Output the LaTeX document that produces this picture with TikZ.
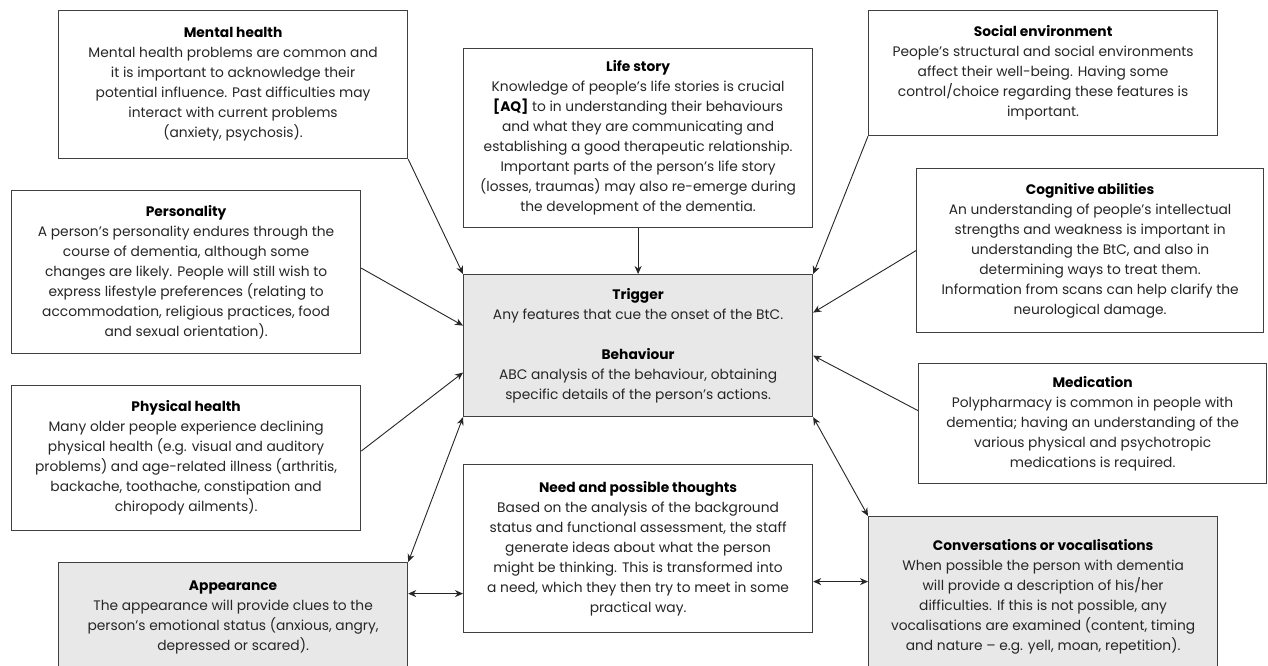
\documentclass[tikz,border=0pt]{standalone}
\usepackage{fontspec}
\setmainfont{Poppins}
\usepackage{xcolor}
\usepackage{tikz}
\usetikzlibrary{arrows.meta, positioning, calc}
\tikzset{
  factor/.style={rectangle, draw=black!75, line width=1.2pt, fill=white,
                 anchor=north west, align=center, inner sep=0pt,
                 text=black!85, font=\fontsize{13.8}{20}\selectfont},
  focus/.style={factor, fill=black!9},
  arc/.style={-{Stealth[length=8pt, width=7pt]}, line width=0.9pt, draw=black!85},
  both/.style={arc, {Stealth[length=8pt, width=7pt]}-{Stealth[length=8pt, width=7pt]}}
}
\newcommand{\hd}[1]{{\bfseries\color{black}#1}}

\begin{document}
\begin{tikzpicture}[x=1pt, y=-1pt]
    \clip (0,0) rectangle (1268,666);
    \fill[white] (0,0) rectangle (1268,666);
    % left column
    \node[factor, minimum width=349pt, minimum height=148pt] (mental) at (58,10)
         {\hd{Mental health}\\Mental health problems are common and\\it is important to
          acknowledge their\\potential influence. Past difficulties may\\interact with
          current problems\\(anxiety, psychosis).};
    \node[factor, minimum width=349pt, minimum height=163pt] (person) at (11,190)
         {\hd{Personality}\\A person’s personality endures through the\\course of dementia,
          although some\\changes are likely. People will still wish to\\express lifestyle
          preferences (relating to\\accommodation, religious practices, food\\and sexual
          orientation).};
    \node[factor, minimum width=349pt, minimum height=145pt] (phys) at (11,385)
         {\hd{Physical health}\\Many older people experience declining\\physical health
          (e.g. visual and auditory\\problems) and age-related illness (arthritis,\\backache,
          toothache, constipation and\\chiropody ailments).};
    \node[focus, minimum width=349pt, minimum height=110pt] (appear) at (58,562)
         {\hd{Appearance}\\The appearance will provide clues to the\\person’s emotional status
          (anxious, angry,\\depressed or scared).};
    % middle column
    \node[factor, minimum width=349pt, minimum height=179pt] (life) at (463,48)
         {\hd{Life story}\\Knowledge of people’s life stories is crucial\\\hd{[AQ]} to in
          understanding their behaviours\\and what they are communicating and\\establishing
          a good therapeutic relationship.\\Important parts of the person’s life story\\(losses,
          traumas) may also re-emerge during\\the development of the dementia.};
    \node[focus, minimum width=349pt, minimum height=142pt] (trig) at (463,274)
         {\hd{Trigger}\\Any features that cue the onset of the BtC.\\[20pt]\hd{Behaviour}\\ABC
          analysis of the behaviour, obtaining\\specific details of the person’s actions.};
    \node[factor, minimum width=349pt, minimum height=168pt] (need) at (463,464)
         {\hd{Need and possible thoughts}\\Based on the analysis of the background\\status
          and functional assessment, the staff\\generate ideas about what the person\\might be
          thinking. This is transformed into\\a need, which they then try to meet in some\\practical
          way.};
    % right column
    \node[factor, minimum width=349pt, minimum height=125pt] (social) at (868,10)
         {\hd{Social environment}\\People’s structural and social environments\\affect their
          well-being. Having some\\control/choice regarding these features is\\important.};
    \node[factor, minimum width=347pt, minimum height=164pt] (cogn) at (916,168)
         {\hd{Cognitive abilities}\\An understanding of people’s intellectual\\strengths and
          weakness is important in\\understanding the BtC, and also in\\determining ways to
          treat them.\\Information from scans can help clarify the\\neurological damage.};
    \node[factor, minimum width=348pt, minimum height=120pt] (medic) at (918,363)
         {\hd{Medication}\\Polypharmacy is common in people with\\dementia; having an
          understanding of the\\various physical and psychotropic\\medications is required.};
    \node[focus, minimum width=349pt, minimum height=160pt] (conv) at (868,516)
         {\hd{Conversations or vocalisations}\\When possible the person with dementia\\will
          provide a description of his/her\\difficulties. If this is not possible, any\\vocalisations
          are examined (content, timing\\and nature – e.g. yell, moan, repetition).};
    % links into the trigger box
    \draw[arc] (mental.south east) -- (trig.north west);
    \draw[arc] (life) -- (trig);
    \draw[arc] (social.south west) -- (trig.north east);
    \draw[arc] ([yshift=4pt]person.east) -- ([yshift=20pt]trig.west);
    \draw[arc] ([yshift=7pt]phys.east) -- ([yshift=-27pt]trig.west);
    \draw[arc] (cogn.west) -- ([yshift=33pt]trig.east);
    \draw[arc] ([yshift=13pt]medic.west) -- ([yshift=-10pt]trig.east);
    \draw[both] (appear.north east) -- (trig.south west);
    \draw[both] (conv.north west) -- (trig.south east);
    \coordinate (an) at ([yshift=-45pt]need.west);
    \coordinate (nc) at ([yshift=-33pt]need.east);
    \draw[both] (an -| appear.east) -- (an);
    \draw[both] (nc) -- (nc -| conv.west);
\end{tikzpicture}
\end{document}
